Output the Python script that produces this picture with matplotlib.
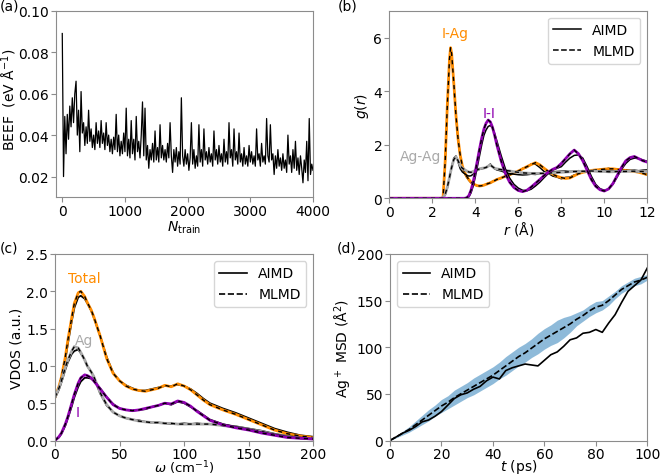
import matplotlib
matplotlib.use('Agg')
import matplotlib.pyplot as plt
import numpy as np

# ---- (a) BEEF vs training set size (sampled every 20 structures)
beef = [
    0.089, 0.020, 0.049, 0.031, 0.050, 0.038, 0.054, 0.044, 0.058, 0.046,
    0.060, 0.066, 0.040, 0.052, 0.032, 0.061, 0.041, 0.046, 0.035, 0.044,
    0.036, 0.052, 0.037, 0.043, 0.034, 0.040, 0.033, 0.046, 0.036, 0.042,
    0.034, 0.047, 0.036, 0.041, 0.033, 0.046, 0.035, 0.040, 0.032, 0.038,
    0.031, 0.039, 0.033, 0.050, 0.032, 0.040, 0.030, 0.037, 0.031, 0.041,
    0.032, 0.053, 0.030, 0.038, 0.029, 0.047, 0.031, 0.038, 0.028, 0.049,
    0.032, 0.037, 0.029, 0.040, 0.056, 0.030, 0.053, 0.028, 0.035, 0.024,
    0.033, 0.028, 0.036, 0.027, 0.042, 0.028, 0.034, 0.027, 0.045, 0.029,
    0.035, 0.028, 0.033, 0.027, 0.036, 0.029, 0.046, 0.030, 0.022, 0.033,
    0.027, 0.034, 0.025, 0.032, 0.026, 0.058, 0.030, 0.025, 0.033, 0.026,
    0.031, 0.023, 0.029, 0.046, 0.026, 0.033, 0.024, 0.030, 0.025, 0.045,
    0.027, 0.033, 0.025, 0.043, 0.028, 0.032, 0.026, 0.034, 0.027, 0.031,
    0.025, 0.042, 0.028, 0.033, 0.026, 0.035, 0.027, 0.031, 0.025, 0.038,
    0.027, 0.032, 0.026, 0.046, 0.029, 0.033, 0.025, 0.043, 0.028, 0.032,
    0.026, 0.041, 0.027, 0.031, 0.025, 0.034, 0.026, 0.030, 0.025, 0.035,
    0.027, 0.032, 0.026, 0.030, 0.025, 0.043, 0.028, 0.031, 0.025, 0.036,
    0.027, 0.030, 0.026, 0.048, 0.030, 0.027, 0.045, 0.028, 0.031, 0.021,
    0.030, 0.024, 0.033, 0.025, 0.029, 0.023, 0.031, 0.024, 0.028, 0.022,
    0.040, 0.026, 0.030, 0.022, 0.033, 0.024, 0.037, 0.023, 0.029, 0.021,
    0.030, 0.024, 0.017, 0.028, 0.022, 0.037, 0.018, 0.048, 0.021, 0.026,
    0.023,
]
n_train = np.linspace(0, 4000, len(beef))

# ---- (b) radial distribution functions
r = [0, 2.4, 2.5, 2.6, 2.7, 2.8, 2.85,
     2.9, 3.0, 3.1, 3.2, 3.3, 3.4, 3.5, 3.6, 3.7, 3.8, 3.9, 4.0, 4.1, 4.2, 4.3,
     4.4, 4.5, 4.6, 4.7, 4.8, 4.9, 5.0,
     5.2, 5.4, 5.6, 5.8, 6.0, 6.2, 6.4, 6.6, 6.8, 7.0, 7.2, 7.4, 7.6, 7.8, 8.0,
     8.2, 8.4, 8.6, 8.8, 9.0, 9.2, 9.4, 9.6, 9.8, 10.0, 10.2, 10.4, 10.6, 10.8,
     11.0, 11.2, 11.4, 11.6, 11.8, 12.0]
g_iag_ml = [0, 0, 0.02, 1.4, 3.5, 5.2, 5.62,
            5.4, 4.3, 3.1, 2.2, 1.6, 1.2, 0.97, 0.82, 0.70, 0.60, 0.54, 0.50, 0.47,
            0.46, 0.47, 0.49, 0.52, 0.55, 0.58, 0.62, 0.66, 0.70,
            0.76, 0.82, 0.88, 0.95, 1.02, 1.1, 1.18, 1.26, 1.33, 1.25,
            1.12, 1.0, 0.9, 0.82, 0.77, 0.74, 0.76, 0.84, 0.92, 0.97,
            1.0, 1.04, 1.06, 1.07, 1.09, 1.1, 1.1, 1.08, 1.06, 1.04,
            1.02, 1.0, 0.97, 0.93, 0.88]
g_iag_ai = [0, 0, 0.03, 1.3, 3.4, 5.1, 5.55,
            5.35, 4.25, 3.05, 2.15, 1.55, 1.15, 0.93, 0.78, 0.67, 0.58, 0.52, 0.49, 0.46,
            0.47, 0.45, 0.50, 0.52, 0.57, 0.56, 0.63, 0.65, 0.72,
            0.74, 0.84, 0.86, 0.97, 1.0, 1.12, 1.15, 1.28, 1.27, 1.15,
            1.0, 0.93, 0.83, 0.79, 0.73, 0.78, 0.79, 0.87, 0.90, 0.98,
            0.99, 1.04, 1.03, 1.08, 1.08, 1.12, 1.07, 1.09, 1.03, 1.05,
            1.03, 1.0, 0.98, 0.92, 0.87]
g_agag_ml = [0, 0, 0.03, 0.15, 0.42, 0.78, 0.98,
             1.15, 1.45, 1.55, 1.4, 1.22, 1.12, 1.07, 1.02, 0.98, 0.97, 1.0, 1.04, 1.07,
             1.1, 1.12, 1.13, 1.15, 1.2, 1.24, 1.18, 1.12, 1.1,
             1.07, 1.04, 1.02, 0.99, 0.97, 0.95, 0.94, 0.93, 0.93, 0.93,
             0.93, 0.94, 0.95, 0.96, 0.97, 0.98, 0.99, 1.0, 1.0, 1.01,
             1.01, 1.02, 1.01, 1.0, 1.0, 0.99, 0.99, 1.0, 1.0, 1.0,
             1.01, 1.01, 1.0, 1.0, 1.0]
g_agag_ai = [0, 0, 0.02, 0.12, 0.38, 0.75, 0.98,
             1.18, 1.5, 1.58, 1.35, 1.1, 0.98, 0.92, 0.86, 0.83, 0.84, 0.9, 0.98, 1.05,
             1.08, 1.1, 1.12, 1.15, 1.2, 1.28, 1.18, 1.1, 1.06,
             1.02, 0.96, 0.92, 0.9, 0.88, 0.87, 0.88, 0.9, 0.89, 0.92,
             0.95, 0.97, 0.99, 1.0, 1.01, 1.02, 1.0, 1.01, 1.03, 1.02,
             1.01, 1.03, 1.02, 1.01, 1.04, 1.03, 1.01, 1.02, 1.04, 1.03,
             1.04, 1.05, 1.03, 1.05, 1.06]
g_ii_ml = [0, 0, 0, 0, 0, 0, 0,
           0, 0, 0, 0, 0, 0, 0, 0.02, 0.1, 0.3, 0.6, 1.0, 1.42,
           1.85, 2.25, 2.58, 2.8, 2.92, 2.85, 2.65, 2.35, 2.0,
           1.4, 0.92, 0.6, 0.4, 0.29, 0.25, 0.3, 0.42, 0.56, 0.7,
           0.85, 0.98, 1.08, 1.15, 1.3, 1.48, 1.66, 1.8, 1.66, 1.4,
           1.05, 0.7, 0.45, 0.32, 0.27, 0.35, 0.55, 0.85, 1.15, 1.4,
           1.52, 1.56, 1.48, 1.4, 1.35]
g_ii_ai = [0, 0, 0, 0, 0, 0, 0,
           0, 0, 0, 0, 0, 0, 0, 0.01, 0.05, 0.2, 0.45, 0.8, 1.2,
           1.6, 2.0, 2.35, 2.55, 2.68, 2.72, 2.62, 2.42, 2.15,
           1.6, 1.1, 0.75, 0.52, 0.38, 0.3, 0.28, 0.34, 0.46, 0.6,
           0.77, 0.93, 1.05, 1.12, 1.18, 1.35, 1.5, 1.6, 1.62, 1.5,
           1.18, 0.82, 0.52, 0.36, 0.3, 0.34, 0.52, 0.8, 1.08, 1.3,
           1.45, 1.5, 1.48, 1.43, 1.38]

# ---- (c) vibrational density of states
omega = [0, 3, 5, 8, 10, 13, 15, 18, 20, 23, 25, 28, 30,
         35, 40, 45, 50, 55, 60, 65, 70, 75, 80, 85, 90, 95, 100, 105, 110, 115, 120,
         130, 140, 150, 160, 170, 180, 190, 200]
vdos_tot_ml = [0.58, 0.72, 0.85, 1.12, 1.35, 1.65, 1.84, 1.98, 2.0, 1.93, 1.85, 1.75, 1.66,
               1.4, 1.1, 0.9, 0.8, 0.73, 0.69, 0.67, 0.66, 0.68, 0.7, 0.74, 0.72, 0.76, 0.73,
               0.68, 0.61, 0.54, 0.48,
               0.41, 0.35, 0.28, 0.21, 0.14, 0.09, 0.06, 0.04]
vdos_tot_ai = [0.57, 0.7, 0.83, 1.08, 1.3, 1.6, 1.78, 1.92, 1.94, 1.9, 1.84, 1.74, 1.65,
               1.4, 1.12, 0.91, 0.8, 0.74, 0.7, 0.67, 0.67, 0.69, 0.71, 0.73, 0.73, 0.75, 0.73,
               0.69, 0.63, 0.56, 0.5,
               0.43, 0.37, 0.3, 0.23, 0.16, 0.11, 0.07, 0.05]
vdos_ag_ml = [0.58, 0.7, 0.8, 0.98, 1.08, 1.2, 1.26, 1.24, 1.18, 1.08, 1.0, 0.92, 0.86,
              0.64, 0.48, 0.38, 0.33, 0.3, 0.28, 0.26, 0.25, 0.24, 0.24, 0.23, 0.23, 0.22, 0.22,
              0.22, 0.22, 0.22, 0.22,
              0.2, 0.18, 0.15, 0.12, 0.08, 0.05, 0.03, 0.02]
vdos_ag_ai = [0.57, 0.68, 0.78, 0.95, 1.05, 1.16, 1.2, 1.22, 1.17, 1.08, 1.0, 0.92, 0.85,
              0.63, 0.47, 0.38, 0.33, 0.3, 0.28, 0.27, 0.25, 0.24, 0.24, 0.23, 0.22, 0.22, 0.23,
              0.22, 0.23, 0.22, 0.22,
              0.21, 0.19, 0.16, 0.13, 0.09, 0.06, 0.04, 0.02]
vdos_i_ml = [0.0, 0.05, 0.1, 0.22, 0.32, 0.5, 0.62, 0.77, 0.84, 0.88, 0.87, 0.84, 0.8,
             0.69, 0.58, 0.48, 0.43, 0.41, 0.4, 0.41, 0.43, 0.45, 0.47, 0.5, 0.49, 0.53, 0.51,
             0.46, 0.39, 0.33, 0.27,
             0.21, 0.17, 0.14, 0.1, 0.07, 0.04, 0.03, 0.02]
vdos_i_ai = [0.0, 0.04, 0.09, 0.2, 0.3, 0.46, 0.58, 0.72, 0.79, 0.84, 0.84, 0.83, 0.8,
             0.7, 0.58, 0.49, 0.43, 0.41, 0.4, 0.41, 0.42, 0.45, 0.47, 0.5, 0.48, 0.52, 0.5,
             0.45, 0.4, 0.34, 0.28,
             0.22, 0.18, 0.15, 0.11, 0.08, 0.05, 0.03, 0.02]

# ---- (d) Ag+ mean squared displacement
t_ps = [0, 2.5, 5, 7.5, 10, 12.5, 15, 17.5, 20, 22.5, 25, 27.5, 30, 32.5, 35, 37.5,
        40, 42.5, 45, 47.5, 50, 52.5, 55, 57.5, 60, 62.5, 65, 67.5, 70, 72.5, 75,
        77.5, 80, 82.5, 85, 87.5, 90, 92.5, 95, 97.5, 100]
msd_ai = [0, 4, 8, 11, 15, 20, 22, 26, 31, 38, 45, 49, 51, 55, 58, 64,
          68, 66, 75, 78, 80, 82, 81, 80, 86, 92, 95, 101, 108, 110, 115,
          116, 119, 116, 126, 135, 148, 160, 166, 172, 185]
msd_ml = [0, 4, 8, 12, 17, 22, 27, 32, 37, 41, 46, 50, 54, 58, 62, 66,
          70, 75, 80, 85, 90, 94, 99, 104, 109, 113, 117, 121, 125, 130, 134,
          139, 143, 145, 150, 156, 162, 166, 170, 172, 175]
msd_ml_err = [0, 1, 2, 3, 4, 5, 6, 6, 7, 7, 8, 8, 8, 9, 9, 9,
              9, 9, 10, 10, 10, 10, 10, 11, 11, 11, 12, 11, 9, 7, 6,
              6, 6, 5, 5, 4, 4, 4, 4, 4, 3]

ORANGE = '#ff8c00'
PURPLE = '#8f00b0'
GREY = '#a9a9a9'
SPINE = '#8c8c8c'

plt.rcParams['font.family'] = ['DejaVu Sans']
plt.rcParams['font.size'] = 10
plt.rcParams['legend.fontsize'] = 10

W, H = 661, 477
fig = plt.figure(figsize=(W / 100, H / 100), dpi=100)


def px_axes(left, top, right, bottom):
    return fig.add_axes([left / W, 1 - bottom / H, (right - left) / W, (bottom - top) / H])


def style(ax):
    for s in ax.spines.values():
        s.set_color(SPINE)
    ax.tick_params(color=SPINE, length=3.5, pad=1.5)


ax_a = px_axes(56, 11.7, 313, 198.3)
ax_b = px_axes(389.3, 11.7, 647.3, 199.3)
ax_c = px_axes(55, 255, 313.3, 441.5)
ax_d = px_axes(390, 255, 647.3, 441.5)
for ax in (ax_a, ax_b, ax_c, ax_d):
    style(ax)

# (a)
ax_a.plot(n_train, beef, color='k', lw=0.9)
ax_a.set_xlim(-100, 4000)
ax_a.set_ylim(0.01, 0.10)
ax_a.set_yticks([0.02, 0.04, 0.06, 0.08, 0.10])
ax_a.set_xticks([0, 1000, 2000, 3000, 4000])
ax_a.set_ylabel('BEEF  (eV Å$^{-1}$)')
ax_a.yaxis.set_label_coords(-0.143, 0.53)
ax_a.set_xlabel(r'$N_{\rm train}$', labelpad=0)

# (b)
for ml, ai, col in ((g_iag_ml, g_iag_ai, ORANGE), (g_agag_ml, g_agag_ai, GREY),
                    (g_ii_ml, g_ii_ai, PURPLE)):
    ax_b.plot(r, ai, color='k', lw=1.1)
    ax_b.plot(r, ml, color=col, lw=2)
    ax_b.plot(r, ml, color='k', lw=1, ls=(0, (3, 3)))
ax_b.text(3.06, 6.17, 'I-Ag', color=ORANGE, ha='center', va='center')
ax_b.text(4.65, 3.2, 'I-I', color=PURPLE, ha='center', va='center')
ax_b.text(1.45, 1.59, 'Ag-Ag', color=GREY, ha='center', va='center')
ax_b.plot([], [], color='k', lw=1.1, label='AIMD')
ax_b.plot([], [], color='k', lw=1.1, ls='--', label='MLMD')
ax_b.legend(loc='upper right')
ax_b.set_xlim(0, 12)
ax_b.set_ylim(0, 7)
ax_b.set_xticks([0, 2, 4, 6, 8, 10, 12])
ax_b.set_yticks([0, 2, 4, 6])
ax_b.set_ylabel('$g(r)$', labelpad=2)
ax_b.set_xlabel('$r$ (Å)', labelpad=0)

# (c)
for ml, ai, col in ((vdos_tot_ml, vdos_tot_ai, ORANGE), (vdos_ag_ml, vdos_ag_ai, GREY),
                    (vdos_i_ml, vdos_i_ai, PURPLE)):
    ax_c.plot(omega, ai, color='k', lw=1.3)
    ax_c.plot(omega, ml, color=col, lw=2)
    ax_c.plot(omega, ml, color='k', lw=1, ls=(0, (3, 3)))
ax_c.text(23, 2.18, 'Total', color=ORANGE, ha='center', va='center')
ax_c.text(22.5, 1.35, 'Ag', color=GREY, ha='center', va='center')
ax_c.text(17.3, 0.38, 'I', color=PURPLE, ha='center', va='center')
ax_c.plot([], [], color='k', lw=1.2, label='AIMD')
ax_c.plot([], [], color='k', lw=1.2, ls='--', label='MLMD')
ax_c.legend(loc='upper right')
ax_c.set_xlim(0, 200)
ax_c.set_ylim(0, 2.5)
ax_c.set_ylabel('VDOS (a.u.)', labelpad=2)
ax_c.set_xlabel(r'$\omega$ (cm$^{-1}$)', fontsize=9.5)
ax_c.xaxis.set_label_coords(0.5, -0.097)

# (d)
msd_ml_arr = np.array(msd_ml)
err = np.array(msd_ml_err)
ax_d.fill_between(t_ps, msd_ml_arr - err, msd_ml_arr + err, color='tab:blue', alpha=0.5, lw=0)
ax_d.plot(t_ps, msd_ai, color='k', lw=1.2, label='AIMD')
ax_d.plot(t_ps, msd_ml, color='k', lw=1.2, ls='--', label='MLMD')
ax_d.legend(loc='upper left')
ax_d.set_xlim(0, 100)
ax_d.set_ylim(0, 200)
ax_d.set_ylabel('Ag$^+$ MSD (Å$^2$)', labelpad=2)
ax_d.set_xlabel('$t$ (ps)')
ax_d.xaxis.set_label_coords(0.5, -0.09)

fig.text(0 / W, 1 - 0 / H, '(a)', ha='left', va='top', fontsize=10)
fig.text(338 / W, 1 - 0 / H, '(b)', ha='left', va='top', fontsize=10)
fig.text(0 / W, 1 - 241 / H, '(c)', ha='left', va='top', fontsize=10)
fig.text(337 / W, 1 - 241 / H, '(d)', ha='left', va='top', fontsize=10)

fig.savefig('out.png', dpi=100)
